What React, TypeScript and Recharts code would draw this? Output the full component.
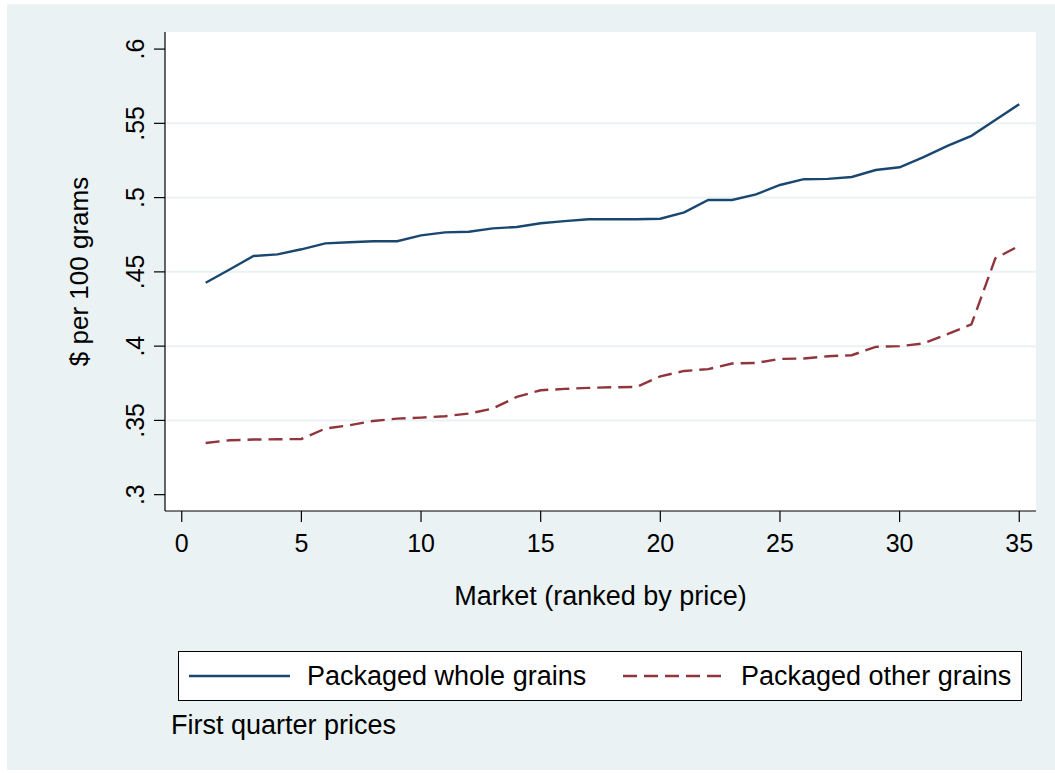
import React from "react";
import {
  LineChart,
  Line,
  XAxis,
  YAxis,
  CartesianGrid,
  ReferenceLine,
  Legend,
  Label,
} from "recharts";

// market rank (1 = cheapest)
const markets = [
  1, 2, 3, 4, 5, 6, 7, 8, 9, 10, 11, 12, 13, 14, 15, 16, 17, 18, 19, 20, 21,
  22, 23, 24, 25, 26, 27, 28, 29, 30, 31, 32, 33, 34, 35,
];

// $ per 100 grams
const wholeGrains = [
  0.4427, 0.4516, 0.4607, 0.4618, 0.4652, 0.4692, 0.4699, 0.4706, 0.4706,
  0.4746, 0.4766, 0.477, 0.4793, 0.4802, 0.4827, 0.4842, 0.4854, 0.4854,
  0.4854, 0.4858, 0.4901, 0.4984, 0.4984, 0.5022, 0.5085, 0.5124, 0.5126,
  0.5139, 0.5186, 0.5204, 0.5272, 0.5348, 0.5416, 0.5523, 0.5629,
];

const otherGrains = [
  0.3348, 0.3366, 0.3371, 0.3373, 0.3375, 0.3445, 0.3467, 0.3496, 0.3512,
  0.3519, 0.3528, 0.3546, 0.358, 0.3658, 0.3703, 0.3712, 0.3719, 0.3723,
  0.3725, 0.3797, 0.3833, 0.3845, 0.3883, 0.3887, 0.3914, 0.3917, 0.3932,
  0.3939, 0.3995, 0.4, 0.4018, 0.4081, 0.4146, 0.4591, 0.4676,
];

const seriesNames = ["Packaged whole grains", "Packaged other grains"];

const xTicks = [0, 5, 10, 15, 20, 25, 30, 35];
const yTicks = [0.3, 0.35, 0.4, 0.45, 0.5, 0.55, 0.6];
const yTickLabels = [".3", ".35", ".4", ".45", ".5", ".55", ".6"];

const data = markets.map((m, i) => ({
  market: m,
  whole: wholeGrains[i],
  other: otherGrains[i],
}));

const FONT = '"Liberation Sans", Arial, Helvetica, sans-serif';
const BG = "#EAF2F3";
const BLUE = "#1A476F";
const RED = "#90353B";

const XTick = (props: any) => {
  const { x, y, payload } = props;
  return (
    <text x={x} y={y + 28} textAnchor="middle" fontSize={25} fill="#000" fontFamily={FONT}>
      {payload.value}
    </text>
  );
};

const YTick = (props: any) => {
  const { x, y, payload } = props;
  const idx = yTicks.findIndex((t) => Math.abs(t - payload.value) < 1e-6);
  const bx = x - 8;
  return (
    <text
      x={bx}
      y={y}
      transform={`rotate(-90, ${bx}, ${y})`}
      textAnchor="middle"
      fontSize={25}
      fill="#000"
      fontFamily={FONT}
    >
      {idx >= 0 ? yTickLabels[idx] : payload.value}
    </text>
  );
};

const LegendBox = (props: any) => {
  const items = [...(props.payload || [])].sort(
    (a: any, b: any) => seriesNames.indexOf(a.value) - seriesNames.indexOf(b.value)
  );
  return (
    <svg width={845} height={51} style={{ display: "block" }}>
      <rect x={0.5} y={0.5} width={843} height={49} fill="#fff" stroke="#000" strokeWidth={1} />
      {items.map((it: any, i: number) => {
        const ox = i === 0 ? 11 : 445;
        const dash = it.payload?.strokeDasharray;
        return (
          <g key={i}>
            <line
              x1={ox}
              x2={ox + 101}
              y1={25}
              y2={25}
              stroke={it.color}
              strokeWidth={2.4}
              strokeDasharray={dash}
            />
            <text x={ox + 118} y={34} fontSize={27} fontFamily={FONT} fill="#000">
              {it.value}
            </text>
          </g>
        );
      })}
    </svg>
  );
};

export default function App() {
  const gridValues = yTicks.slice(1, -1);
  return (
    <div style={{ position: "absolute", left: 0, top: 0, width: 1055, height: 773, background: "#fff" }}>
      <div style={{ position: "absolute", left: 7, top: 4, width: 1048, height: 766, background: BG }} />
      <div style={{ position: "absolute", left: 0, top: 0 }}>
        <LineChart
          width={1055}
          height={773}
          data={data}
          margin={{ top: 32, right: 19, left: 0, bottom: 202 }}
        >
          <CartesianGrid horizontal={false} vertical={false} fill="#fff" />
          {gridValues.map((v) => (
            <ReferenceLine key={v} y={v} stroke={BG} strokeWidth={2} />
          ))}
          <XAxis
            dataKey="market"
            type="number"
            domain={[-0.7, 35.7]}
            ticks={xTicks}
            interval={0}
            height={60}
            tickSize={11}
            tick={<XTick />}
            axisLine={{ stroke: "#000", strokeWidth: 1.2 }}
            tickLine={{ stroke: "#000", strokeWidth: 1.2 }}
            allowDataOverflow
          >
            <Label
              content={(p: any) => {
                const vb = p.viewBox || { x: 165, y: 511, width: 871 };
                return (
                  <text
                    x={vb.x + vb.width / 2}
                    y={vb.y + 94}
                    textAnchor="middle"
                    fontSize={27}
                    fontFamily={FONT}
                    fill="#000"
                  >
                    Market (ranked by price)
                  </text>
                );
              }}
            />
          </XAxis>
          <YAxis
            type="number"
            domain={[0.289, 0.6115]}
            ticks={yTicks}
            interval={0}
            width={165}
            tickSize={11}
            tick={<YTick />}
            axisLine={{ stroke: "#000", strokeWidth: 1.2 }}
            tickLine={{ stroke: "#000", strokeWidth: 1.2 }}
            allowDataOverflow
          >
            <Label
              content={(p: any) => {
                const vb = p.viewBox || { x: 0, y: 32, height: 479 };
                const cx = vb.x + 88;
                const cy = vb.y + vb.height / 2;
                return (
                  <text
                    x={cx}
                    y={cy}
                    transform={`rotate(-90, ${cx}, ${cy})`}
                    textAnchor="middle"
                    fontSize={26}
                    fontFamily={FONT}
                    fill="#000"
                  >
                    $ per 100 grams
                  </text>
                );
              }}
            />
          </YAxis>
          <Line
            type="linear"
            dataKey="whole"
            name={seriesNames[0]}
            stroke={BLUE}
            strokeWidth={2.4}
            dot={false}
            activeDot={false}
            isAnimationActive={false}
          />
          <Line
            type="linear"
            dataKey="other"
            name={seriesNames[1]}
            stroke={RED}
            strokeWidth={2.4}
            strokeDasharray="14 7"
            dot={false}
            activeDot={false}
            isAnimationActive={false}
          />
          <Legend
            layout="horizontal"
            verticalAlign="middle"
            align="center"
            content={<LegendBox />}
            wrapperStyle={{ position: "absolute", left: 178, top: 651, width: 845, height: 51 }}
          />
        </LineChart>
      </div>
      <div
        style={{
          position: "absolute",
          left: 171,
          top: 710,
          fontFamily: FONT,
          fontSize: 27,
          lineHeight: "31px",
          color: "#000",
          whiteSpace: "nowrap",
        }}
      >
        First quarter prices
      </div>
    </div>
  );
}
